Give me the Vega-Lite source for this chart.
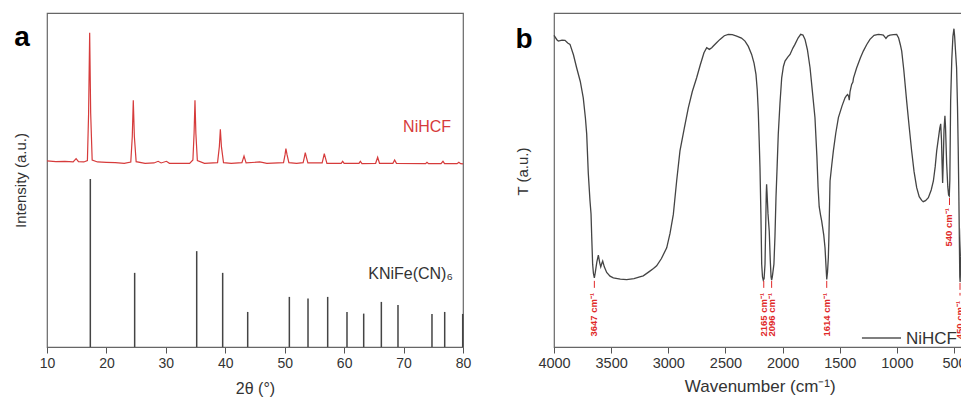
{
  "$schema": "https://vega.github.io/schema/vega-lite/v6.json",
  "padding": {"left": 12, "top": 12, "right": 0, "bottom": 4},
  "spacing": 42,
  "config": {
    "font": "Liberation Sans",
    "view": {"stroke": "#666", "strokeWidth": 1.2},
    "axis": {"grid": false, "labelFont": "Liberation Sans", "titleFont": "Liberation Sans", "labelFontSize": 14, "titleFontSize": 16, "titleFontWeight": "normal", "labelColor": "#333", "titleColor": "#333", "domainColor": "#666", "tickColor": "#555", "labelFlush": false},
    "text": {"font": "Liberation Sans"}
  },
  "datasets": {
    "xrd": [
      {"t": 10, "i": 55.7}, {"t": 11.5, "i": 55.5}, {"t": 13, "i": 55.6}, {"t": 14.4, "i": 55.4}, {"t": 14.9, "i": 56.4}, {"t": 15.3, "i": 55.5}, {"t": 16.2, "i": 55.4}, {"t": 16.8, "i": 55.8}, {"t": 17.0, "i": 70}, {"t": 17.18, "i": 94.1}, {"t": 17.35, "i": 70}, {"t": 17.6, "i": 56}, {"t": 18.5, "i": 55.4}, {"t": 20, "i": 55.3}, {"t": 21.5, "i": 55.2}, {"t": 23, "i": 55.0}, {"t": 24.1, "i": 55.4}, {"t": 24.35, "i": 63}, {"t": 24.52, "i": 73.9}, {"t": 24.7, "i": 63}, {"t": 25, "i": 55.5}, {"t": 26.5, "i": 55.0}, {"t": 28.0, "i": 55.1}, {"t": 28.7, "i": 55.6}, {"t": 29.2, "i": 55.1}, {"t": 30.1, "i": 55.6}, {"t": 30.6, "i": 55.0}, {"t": 32, "i": 55.0}, {"t": 34.0, "i": 55.0}, {"t": 34.55, "i": 56}, {"t": 34.75, "i": 64}, {"t": 34.9, "i": 73.9}, {"t": 35.05, "i": 64}, {"t": 35.3, "i": 55.8}, {"t": 36.5, "i": 55.0}, {"t": 38.7, "i": 55.2}, {"t": 39.0, "i": 60}, {"t": 39.17, "i": 65.2}, {"t": 39.35, "i": 60}, {"t": 39.7, "i": 55.2}, {"t": 41, "i": 55.0}, {"t": 42.8, "i": 55.2}, {"t": 43.15, "i": 57.2}, {"t": 43.5, "i": 55.1}, {"t": 45.8, "i": 55.4}, {"t": 47, "i": 55.0}, {"t": 49.8, "i": 55.2}, {"t": 50.05, "i": 57.5}, {"t": 50.2, "i": 59.4}, {"t": 50.4, "i": 57.5}, {"t": 50.7, "i": 55.2}, {"t": 52, "i": 55.0}, {"t": 53.1, "i": 55.2}, {"t": 53.3, "i": 56.8}, {"t": 53.46, "i": 58.2}, {"t": 53.65, "i": 56.8}, {"t": 53.9, "i": 55.1}, {"t": 56.3, "i": 55.1}, {"t": 56.5, "i": 56.6}, {"t": 56.66, "i": 57.9}, {"t": 56.85, "i": 56.6}, {"t": 57.1, "i": 55.0}, {"t": 59.5, "i": 55.0}, {"t": 59.75, "i": 55.6}, {"t": 60.0, "i": 55.0}, {"t": 62.5, "i": 55.0}, {"t": 62.72, "i": 55.6}, {"t": 63, "i": 54.9}, {"t": 65.3, "i": 55.0}, {"t": 65.64, "i": 56.8}, {"t": 65.95, "i": 55.0}, {"t": 68.2, "i": 55.0}, {"t": 68.5, "i": 56.0}, {"t": 68.8, "i": 55.0}, {"t": 73.7, "i": 54.9}, {"t": 73.94, "i": 55.3}, {"t": 74.2, "i": 54.9}, {"t": 76.3, "i": 54.9}, {"t": 76.63, "i": 55.6}, {"t": 76.9, "i": 54.9}, {"t": 79.0, "i": 54.9}, {"t": 79.3, "i": 55.3}, {"t": 79.6, "i": 54.9}, {"t": 80, "i": 54.8}
    ],
    "sticks": [
      {"t": 17.29, "i": 50.3}, {"t": 24.75, "i": 22.2}, {"t": 35.19, "i": 28.7}, {"t": 39.56, "i": 22.2}, {"t": 43.77, "i": 10.5}, {"t": 50.78, "i": 15.0}, {"t": 53.92, "i": 14.5}, {"t": 57.23, "i": 15.0}, {"t": 60.48, "i": 10.5}, {"t": 63.29, "i": 10.0}, {"t": 66.26, "i": 13.5}, {"t": 69.06, "i": 12.6}, {"t": 74.78, "i": 9.9}, {"t": 76.92, "i": 10.5}, {"t": 79.95, "i": 9.9}
    ],
    "ftir": [
      {"w": 4000, "T": 93.3}, {"w": 3975, "T": 92.0}, {"w": 3962, "T": 91.6}, {"w": 3930, "T": 91.9}, {"w": 3904, "T": 91.8}, {"w": 3880, "T": 91.0}, {"w": 3860, "T": 90.6}, {"w": 3830, "T": 87.5}, {"w": 3802, "T": 83.6}, {"w": 3770, "T": 79.5}, {"w": 3744, "T": 74.6}, {"w": 3725, "T": 68.5}, {"w": 3714, "T": 63.8}, {"w": 3700, "T": 52}, {"w": 3685, "T": 43.7}, {"w": 3676, "T": 39.8}, {"w": 3670, "T": 33}, {"w": 3662, "T": 24.8}, {"w": 3655, "T": 22}, {"w": 3647, "T": 20.7}, {"w": 3638, "T": 22.5}, {"w": 3625, "T": 25.5}, {"w": 3612, "T": 27.5}, {"w": 3600, "T": 25.2}, {"w": 3591, "T": 24.0}, {"w": 3582, "T": 25.0}, {"w": 3574, "T": 25.7}, {"w": 3560, "T": 24.0}, {"w": 3539, "T": 22.3}, {"w": 3510, "T": 21.2}, {"w": 3481, "T": 20.7}, {"w": 3420, "T": 20.3}, {"w": 3364, "T": 20.2}, {"w": 3300, "T": 20.5}, {"w": 3250, "T": 21.0}, {"w": 3219, "T": 21.3}, {"w": 3170, "T": 22.5}, {"w": 3130, "T": 23.5}, {"w": 3102, "T": 24.3}, {"w": 3060, "T": 26.5}, {"w": 3014, "T": 29.7}, {"w": 2985, "T": 34}, {"w": 2956, "T": 39.7}, {"w": 2927, "T": 49.7}, {"w": 2898, "T": 58.7}, {"w": 2860, "T": 65.5}, {"w": 2825, "T": 71.6}, {"w": 2790, "T": 76.5}, {"w": 2752, "T": 80.6}, {"w": 2720, "T": 84.5}, {"w": 2688, "T": 88.1}, {"w": 2664, "T": 89.6}, {"w": 2641, "T": 89.1}, {"w": 2620, "T": 89.6}, {"w": 2606, "T": 90.1}, {"w": 2580, "T": 91.0}, {"w": 2548, "T": 92.1}, {"w": 2510, "T": 93.2}, {"w": 2475, "T": 93.6}, {"w": 2440, "T": 93.5}, {"w": 2402, "T": 93.1}, {"w": 2360, "T": 92.5}, {"w": 2329, "T": 91.6}, {"w": 2300, "T": 90.0}, {"w": 2271, "T": 87.6}, {"w": 2250, "T": 85}, {"w": 2233, "T": 81.6}, {"w": 2222, "T": 77}, {"w": 2213, "T": 70.7}, {"w": 2205, "T": 62}, {"w": 2198, "T": 53.7}, {"w": 2190, "T": 40}, {"w": 2183, "T": 24.8}, {"w": 2176, "T": 21}, {"w": 2169, "T": 20.0}, {"w": 2162, "T": 20.5}, {"w": 2154, "T": 24.8}, {"w": 2148, "T": 36}, {"w": 2143, "T": 46}, {"w": 2140, "T": 48.7}, {"w": 2136, "T": 46}, {"w": 2128, "T": 40}, {"w": 2117, "T": 34.7}, {"w": 2108, "T": 26}, {"w": 2101, "T": 21}, {"w": 2096, "T": 20.0}, {"w": 2090, "T": 21}, {"w": 2076, "T": 24.8}, {"w": 2067, "T": 33}, {"w": 2058, "T": 44.7}, {"w": 2048, "T": 54}, {"w": 2038, "T": 63.7}, {"w": 2023, "T": 73}, {"w": 2008, "T": 80.6}, {"w": 1993, "T": 84}, {"w": 1979, "T": 85.6}, {"w": 1955, "T": 86.8}, {"w": 1935, "T": 87.6}, {"w": 1910, "T": 89.5}, {"w": 1892, "T": 90.6}, {"w": 1865, "T": 92.5}, {"w": 1842, "T": 93.6}, {"w": 1822, "T": 93.4}, {"w": 1804, "T": 92.1}, {"w": 1783, "T": 89}, {"w": 1760, "T": 83.6}, {"w": 1738, "T": 76}, {"w": 1717, "T": 68.7}, {"w": 1700, "T": 57}, {"w": 1690, "T": 48}, {"w": 1680, "T": 42}, {"w": 1668, "T": 39.5}, {"w": 1658, "T": 37.7}, {"w": 1640, "T": 33.5}, {"w": 1629, "T": 29.7}, {"w": 1620, "T": 24}, {"w": 1614, "T": 20.2}, {"w": 1607, "T": 22.5}, {"w": 1600, "T": 26.7}, {"w": 1595, "T": 33}, {"w": 1591, "T": 39.7}, {"w": 1585, "T": 49.7}, {"w": 1570, "T": 54.5}, {"w": 1556, "T": 58.7}, {"w": 1535, "T": 64}, {"w": 1512, "T": 68.7}, {"w": 1480, "T": 72.2}, {"w": 1454, "T": 74.6}, {"w": 1440, "T": 75.3}, {"w": 1431, "T": 75.6}, {"w": 1422, "T": 75.0}, {"w": 1417, "T": 73.9}, {"w": 1410, "T": 76.5}, {"w": 1396, "T": 78.6}, {"w": 1385, "T": 79.3}, {"w": 1380, "T": 80.5}, {"w": 1352, "T": 83.6}, {"w": 1320, "T": 86.5}, {"w": 1294, "T": 88.6}, {"w": 1265, "T": 90.5}, {"w": 1236, "T": 92.1}, {"w": 1200, "T": 93.3}, {"w": 1163, "T": 93.6}, {"w": 1140, "T": 93.5}, {"w": 1119, "T": 93.4}, {"w": 1105, "T": 92.8}, {"w": 1096, "T": 92.4}, {"w": 1080, "T": 93.1}, {"w": 1061, "T": 93.4}, {"w": 1030, "T": 93.5}, {"w": 1002, "T": 93.6}, {"w": 985, "T": 92.5}, {"w": 970, "T": 90.5}, {"w": 958, "T": 88.6}, {"w": 940, "T": 83}, {"w": 915, "T": 73.7}, {"w": 893, "T": 66}, {"w": 871, "T": 58.7}, {"w": 850, "T": 52.5}, {"w": 827, "T": 47.7}, {"w": 805, "T": 45}, {"w": 783, "T": 43.9}, {"w": 770, "T": 43.5}, {"w": 750, "T": 43.8}, {"w": 725, "T": 44.7}, {"w": 700, "T": 47}, {"w": 681, "T": 49.7}, {"w": 665, "T": 54}, {"w": 652, "T": 58.7}, {"w": 635, "T": 63}, {"w": 625, "T": 65.5}, {"w": 617, "T": 66.8}, {"w": 610, "T": 62}, {"w": 605, "T": 55}, {"w": 600, "T": 49.1}, {"w": 595, "T": 55}, {"w": 588, "T": 65}, {"w": 580, "T": 69.2}, {"w": 575, "T": 66}, {"w": 565, "T": 55}, {"w": 555, "T": 48}, {"w": 548, "T": 45.5}, {"w": 542, "T": 45.2}, {"w": 537, "T": 50}, {"w": 530, "T": 73.7}, {"w": 520, "T": 86}, {"w": 510, "T": 93}, {"w": 501, "T": 95.3}, {"w": 495, "T": 93}, {"w": 488, "T": 89}, {"w": 478, "T": 83.6}, {"w": 470, "T": 72}, {"w": 464, "T": 60}, {"w": 458, "T": 45}, {"w": 453, "T": 30}, {"w": 450, "T": 21}, {"w": 447, "T": 19.5}, {"w": 443, "T": 24}, {"w": 435, "T": 35}, {"w": 420, "T": 45}, {"w": 400, "T": 50}
    ],
    "peaks": [
      {"w": 3647, "y1": 19.8, "y2": 17.6, "yt": 16.2, "label": "3647 cm⁻¹"},
      {"w": 2165, "y1": 19.8, "y2": 17.6, "yt": 16.2, "label": "2165 cm⁻¹"},
      {"w": 2096, "y1": 19.8, "y2": 17.6, "yt": 16.2, "label": "2096 cm⁻¹"},
      {"w": 1614, "y1": 19.8, "y2": 17.6, "yt": 16.2, "label": "1614 cm⁻¹"},
      {"w": 540, "y1": 44.6, "y2": 42.4, "yt": 41.6, "label": "540 cm⁻¹"},
      {"w": 448, "y1": 19.2, "y2": 15.4, "yt": 13.8, "label": "450 cm⁻¹"}
    ]
  },
  "hconcat": [
    {
      "width": 416,
      "height": 334,
      "layer": [
        {
          "data": {"name": "xrd"},
          "mark": {"type": "line", "color": "#d63b3b", "strokeWidth": 1.2},
          "encoding": {
            "x": {"field": "t", "type": "quantitative", "scale": {"domain": [10, 80], "nice": false},
              "axis": {"title": "2θ (°)", "values": [10, 15, 20, 25, 30, 35, 40, 45, 50, 55, 60, 65, 70, 75, 80], "labelExpr": "datum.value % 10 === 0 ? datum.label : ''", "tickSize": {"condition": {"test": "datum.value % 10 === 0", "value": 6}, "value": 3}, "labelPadding": 3, "titlePadding": 10}},
            "y": {"field": "i", "type": "quantitative", "scale": {"domain": [0, 100], "nice": false},
              "axis": {"title": "Intensity (a.u.)", "labels": false, "ticks": false, "domain": false, "titleFontSize": 15, "titlePadding": 19}}
          }
        },
        {
          "data": {"name": "sticks"},
          "mark": {"type": "rule", "color": "#444", "strokeWidth": 1.5},
          "encoding": {
            "x": {"field": "t", "type": "quantitative"},
            "y": {"field": "i", "type": "quantitative"},
            "y2": {"datum": 0}
          }
        },
        {
          "data": {"values": [{"label": "NiHCF"}]},
          "mark": {"type": "text", "color": "#d63b3b", "fontSize": 16, "align": "right", "baseline": "alphabetic"},
          "encoding": {"x": {"datum": 78.0, "type": "quantitative"}, "y": {"datum": 64.4, "type": "quantitative"}, "text": {"field": "label"}}
        },
        {
          "data": {"values": [{"label": "KNiFe(CN)₆"}]},
          "mark": {"type": "text", "color": "#333", "fontSize": 16, "align": "right", "baseline": "alphabetic"},
          "encoding": {"x": {"datum": 78.3, "type": "quantitative"}, "y": {"datum": 20.4, "type": "quantitative"}, "text": {"field": "label"}}
        },
        {
          "data": {"values": [{"label": "a"}]},
          "mark": {"type": "text", "color": "#000", "fontSize": 28, "fontWeight": "bold", "align": "center", "baseline": "alphabetic"},
          "encoding": {"x": {"datum": 5.8, "type": "quantitative"}, "y": {"datum": 90.1, "type": "quantitative"}, "text": {"field": "label"}}
        }
      ]
    },
    {
      "width": 411.5,
      "height": 334,
      "layer": [
        {
          "data": {"name": "ftir"},
          "mark": {"type": "line", "strokeWidth": 1.3, "color": "#444"},
          "encoding": {
            "x": {"field": "w", "type": "quantitative", "scale": {"domain": [4000, 400], "nice": false},
              "axis": {"title": "Wavenumber (cm⁻¹)", "titleFontSize": 17, "labelFontSize": 14.5, "values": [4000, 3750, 3500, 3250, 3000, 2750, 2500, 2250, 2000, 1750, 1500, 1250, 1000, 750, 500], "labelExpr": "datum.value % 500 === 0 ? datum.label : ''", "format": "d", "tickSize": {"condition": {"test": "datum.value % 500 === 0", "value": 6}, "value": 3}, "labelPadding": 3, "titlePadding": 9}},
            "y": {"field": "T", "type": "quantitative", "scale": {"domain": [0, 100], "nice": false},
              "axis": {"title": "T (a.u.)", "labels": false, "ticks": false, "domain": false, "titleFontSize": 15, "titlePadding": 24, "titleY": 158}}
          }
        },
        {
          "data": {"name": "peaks"},
          "mark": {"type": "rule", "color": "#e02828", "strokeWidth": 1, "strokeDash": [7, 3]},
          "encoding": {
            "x": {"field": "w", "type": "quantitative"},
            "y": {"field": "y1", "type": "quantitative"},
            "y2": {"field": "y2"}
          }
        },
        {
          "data": {"name": "peaks"},
          "mark": {"type": "text", "color": "#e02828", "fontSize": 9.5, "fontWeight": "bold", "angle": 270, "align": "right", "baseline": "middle"},
          "encoding": {
            "x": {"field": "w", "type": "quantitative"},
            "y": {"field": "yt", "type": "quantitative"},
            "text": {"field": "label"}
          }
        },
        {
          "data": {"values": [{"label": "NiHCF"}]},
          "mark": {"type": "rule", "color": "#555", "strokeWidth": 1.3},
          "encoding": {"x": {"datum": 1306, "type": "quantitative"}, "x2": {"datum": 964}, "y": {"datum": 2.7, "type": "quantitative"}}
        },
        {
          "data": {"values": [{"label": "NiHCF"}]},
          "mark": {"type": "text", "color": "#333", "fontSize": 17, "align": "left", "baseline": "alphabetic"},
          "encoding": {"x": {"datum": 921, "type": "quantitative"}, "y": {"datum": 0.9, "type": "quantitative"}, "text": {"field": "label"}}
        },
        {
          "data": {"values": [{"label": "b"}]},
          "mark": {"type": "text", "color": "#000", "fontSize": 28, "fontWeight": "bold", "align": "center", "baseline": "alphabetic"},
          "encoding": {"x": {"datum": 4262, "type": "quantitative"}, "y": {"datum": 89.5, "type": "quantitative"}, "text": {"field": "label"}}
        }
      ]
    }
  ]
}
